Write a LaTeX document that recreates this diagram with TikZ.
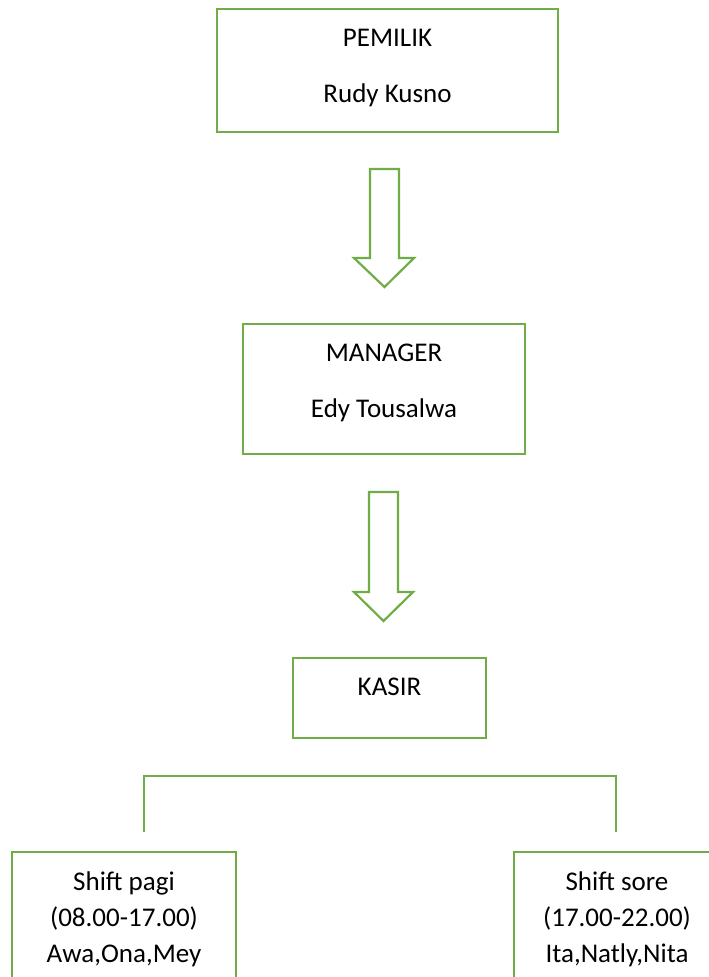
\documentclass[tikz,border=0pt]{standalone}
\usepackage{fontspec}
\setmainfont{Carlito}
\definecolor{boxgreen}{HTML}{70AD47}
\begin{document}
\begin{tikzpicture}[x=1pt,y=-1pt,
  boxst/.style={draw=boxgreen, line width=2.2pt, inner sep=0pt, outer sep=0pt},
  lbl/.style={anchor=base, inner sep=0pt, font=\fontsize{27}{36.5}\selectfont},
  blockarrow/.style={draw=boxgreen, line width=2.2pt, line join=miter, fill=white},
  conn/.style={draw=boxgreen, line width=2.2pt}]
\clip (0,0) rectangle (709,977);
\fill[white] (0,0) rectangle (709,977);
% boxes
\node[boxst, minimum width=341pt, minimum height=123pt] (pemilik) at (387.5,70.5) {};
\node[boxst, minimum width=282pt, minimum height=130pt] (manager) at (384,389) {};
\node[boxst, minimum width=193pt, minimum height=80pt] (kasir) at (389.5,698) {};
\node[boxst, minimum width=224pt, minimum height=148pt] (pagi) at (124,926) {};
\node[boxst, minimum width=206pt, minimum height=148pt] (sore) at (617,926) {};
% texts
\node[lbl] (t1) at (387.5,46) {PEMILIK};
\node[lbl] (t2) at (387.5,102) {Rudy Kusno};
\node[lbl] (t3) at (384,361) {MANAGER};
\node[lbl] (t4) at (384,417) {Edy Tousalwa};
\node[lbl] (t5) at (389.5,695) {KASIR};
\node[lbl] (t6) at (124,890) {Shift pagi};
\node[lbl] (t7) at (124,926.5) {(08.00-17.00)};
\node[lbl] (t8) at (124,962) {Awa,Ona,Mey};
\node[lbl] (t9) at (617,890) {Shift sore};
\node[lbl] (t10) at (617,926.5) {(17.00-22.00)};
\node[lbl] (t11) at (617,962) {Ita,Natly,Nita};
% block arrows
\draw[blockarrow] (370,169) -- (399,169) -- (399,258) -- (414,258) -- (384.5,287) -- (354,258) -- (370,258) -- cycle;
\draw[blockarrow] (369,492) -- (398,492) -- (398,592) -- (413,592) -- (383.5,621) -- (354,592) -- (369,592) -- cycle;
% bracket
\coordinate (bl) at (144,832);
\coordinate (br) at (616,832);
\draw[conn] (bl) -- ++(0,-56) -| (br);
\end{tikzpicture}
\end{document}
